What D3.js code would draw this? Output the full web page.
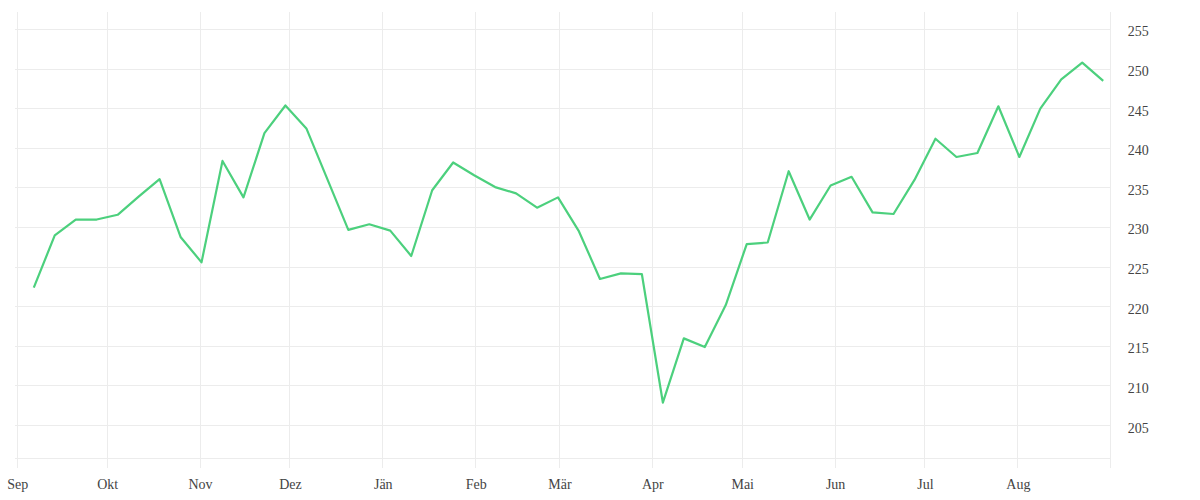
<!DOCTYPE html>
<html>
<head>
<meta charset="utf-8">
<script src="https://cdn.jsdelivr.net/npm/d3@7/dist/d3.min.js"></script>
<style>
  html, body { margin: 0; padding: 0; background: #fff; }
  svg { display: block; }
  text { font-family: "Liberation Serif", "DejaVu Serif", serif; }
</style>
</head>
<body>
<svg id="chart" width="1200" height="500"></svg>
<script>
// Weekly series, first observation on 6 Sep 2018 (midday)
const startDate = "2018-09-06 12:00";
const values = [
  222.4, 229.0, 231.0, 231.0, 231.6, 233.9, 236.1, 228.8, 225.6, 238.4,
  233.8, 241.9, 245.4, 242.5, 236.1, 229.7, 230.4, 229.6, 226.4, 234.7,
  238.2, 236.6, 235.1, 234.3, 232.5, 233.8, 229.5, 223.5, 224.2, 224.1,
  207.9, 216.0, 214.9, 220.2, 227.9, 228.1, 237.1, 231.0, 235.3, 236.4,
  231.9, 231.7, 236.0, 241.2, 238.9, 239.4, 245.3, 238.9, 245.0, 248.7,
  250.8, 248.5
];
const monthLabels = ["Sep", "Okt", "Nov", "Dez", "Jän", "Feb", "Mär", "Apr", "Mai", "Jun", "Jul", "Aug"];
const yTicks = [205, 210, 215, 220, 225, 230, 235, 240, 245, 250, 255];
const xDomain = ["2018-09-01 00:00", "2019-09-01 00:00"];
const yDomain = [200.9, 257.2];

(function () {
const parse = d3.timeParse("%Y-%m-%d %H:%M");
const start = parse(startDate);
const data = values.map((v, i) => ({ date: d3.timeDay.offset(start, i * 7), value: v }));

const svg = d3.select("#chart");
const mLeft = 17.3, mRight = 1110.7, mTop = 12, mBottom = 458;

const x = d3.scaleTime().domain(xDomain.map(parse)).range([mLeft, mRight]);
const y = d3.scaleLinear().domain(yDomain).range([mBottom, mTop]);

const gridColor = "#ececec";

// horizontal gridlines
svg.append("g")
  .selectAll("line")
  .data(yTicks.concat([yDomain[0]]))
  .join("line")
  .attr("x1", mLeft - 2).attr("x2", mRight)
  .attr("y1", d => y(d)).attr("y2", d => y(d))
  .attr("stroke", gridColor).attr("stroke-width", 1)
  .attr("shape-rendering", "crispEdges");

// vertical gridlines at month starts + right edge
const monthTicks = d3.timeMonth.range(x.domain()[0], d3.timeDay.offset(x.domain()[1], 1));
svg.append("g")
  .selectAll("line")
  .data(monthTicks)
  .join("line")
  .attr("x1", d => x(d)).attr("x2", d => x(d))
  .attr("y1", mTop).attr("y2", mBottom + 10)
  .attr("stroke", gridColor).attr("stroke-width", 1)
  .attr("shape-rendering", "crispEdges");

// x axis labels
const xAxis = d3.axisBottom(x)
  .tickValues(monthTicks.slice(0, monthLabels.length))
  .tickFormat((d, i) => monthLabels[i])
  .tickSize(0).tickPadding(0);
const gx = svg.append("g").attr("transform", `translate(0,${mBottom + 28})`).call(xAxis);
gx.select(".domain").remove();
gx.selectAll("text").attr("fill", "#444").attr("font-size", 14).attr("dy", 0)
  .attr("y", 0).attr("dominant-baseline", "middle");

// y axis labels
const yAxis = d3.axisRight(y).tickValues(yTicks).tickFormat(d3.format("d")).tickSize(0).tickPadding(0);
const gy = svg.append("g").attr("transform", `translate(${mRight + 17},2)`).call(yAxis);
gy.select(".domain").remove();
gy.selectAll("text").attr("fill", "#444").attr("font-size", 14).attr("x", 0);

// line
const line = d3.line().x(d => x(d.date)).y(d => y(d.value));
svg.append("path")
  .datum(data)
  .attr("d", line)
  .attr("fill", "none")
  .attr("stroke", "#4cd07d")
  .attr("stroke-width", 2.2)
  .attr("stroke-linejoin", "round");
})();
</script>
</body>
</html>
